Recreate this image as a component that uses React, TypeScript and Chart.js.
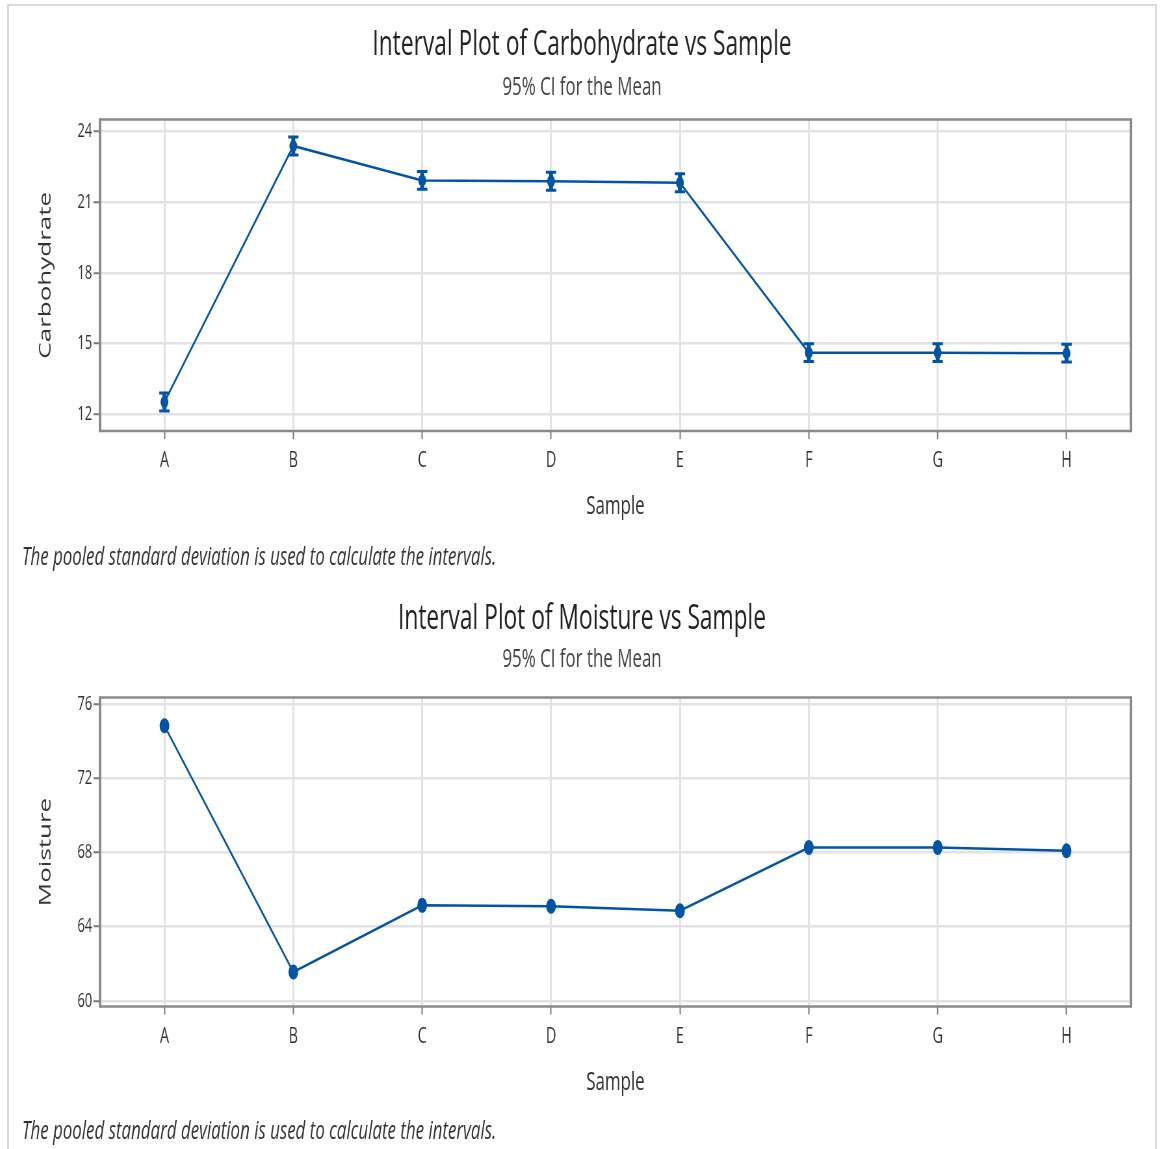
import React, { useEffect, useRef } from "react";
import { Chart, registerables } from "chart.js";

Chart.register(...registerables);

// ---------- data ----------
const samples = ["A", "B", "C", "D", "E", "F", "G", "H"];

const carbMean = [12.53, 23.38, 21.92, 21.88, 21.82, 14.62, 14.62, 14.6];
const carbCI = [0.38, 0.38, 0.38, 0.38, 0.38, 0.38, 0.38, 0.38];
const carbTicks = [12, 15, 18, 21, 24];

const moistMean = [74.83, 61.56, 65.15, 65.1, 64.86, 68.27, 68.27, 68.09];
const moistCI = [0.22, 0.22, 0.22, 0.22, 0.22, 0.22, 0.22, 0.22];
const moistTicks = [60, 64, 68, 72, 76];

const subtitleText = "95% CI for the Mean";
const xTitleText = "Sample";
const footnoteText = "The pooled standard deviation is used to calculate the intervals.";

// ---------- styling ----------
const SX = 0.65; // horizontal squeeze of the reference picture
const CSS_W = 1146;
const W = Math.round(CSS_W / SX);
const H = 574;
const FONT = "'Open Sans', 'Noto Sans', sans-serif";
const BLUE = "#0054a6";
const GRID = "#e2e2e2";
const FRAME = "#8a8a8a";
const SIDE = W - 1726; // symmetric side padding so the titles are centred on the canvas

type PlotProps = {
  title: string;
  yLabel: string;
  mean: number[];
  ci: number[];
  ticks: number[];
  yMin: number;
  yMax: number;
  subPadTop: number;
  subPadBottom: number;
  padBottom: number;
  pointRadius: number;
  capHalf: number;
};

function IntervalPlot(p: PlotProps) {
  const ref = useRef<HTMLCanvasElement | null>(null);

  useEffect(() => {
    if (!ref.current) return;

    const errorBars = {
      id: "errorBars",
      afterDatasetsDraw(chart: any) {
        const ctx = chart.ctx;
        const xs = chart.scales.x;
        const ys = chart.scales.y;
        ctx.save();
        ctx.strokeStyle = BLUE;
        p.mean.forEach((m, i) => {
          const px = xs.getPixelForValue(i);
          const top = ys.getPixelForValue(m + p.ci[i]);
          const bot = ys.getPixelForValue(m - p.ci[i]);
          ctx.lineWidth = 6;
          ctx.beginPath();
          ctx.moveTo(px, top);
          ctx.lineTo(px, bot);
          ctx.stroke();
          ctx.lineWidth = 3;
          ctx.beginPath();
          ctx.moveTo(px - p.capHalf, top);
          ctx.lineTo(px + p.capHalf, top);
          ctx.moveTo(px - p.capHalf, bot);
          ctx.lineTo(px + p.capHalf, bot);
          ctx.stroke();
        });
        ctx.restore();
      },
    };

    const frame = {
      id: "frame",
      beforeDatasetsDraw(chart: any) {
        const { ctx, chartArea: a } = chart;
        ctx.save();
        ctx.strokeStyle = FRAME;
        ctx.lineWidth = 2.5;
        ctx.beginPath();
        ctx.moveTo(a.left, a.top);
        ctx.lineTo(a.right, a.top);
        ctx.moveTo(a.left, a.bottom);
        ctx.lineTo(a.right, a.bottom);
        ctx.stroke();
        ctx.lineWidth = 4;
        ctx.beginPath();
        ctx.moveTo(a.left, a.top - 1.25);
        ctx.lineTo(a.left, a.bottom + 1.25);
        ctx.moveTo(a.right, a.top - 1.25);
        ctx.lineTo(a.right, a.bottom + 1.25);
        ctx.stroke();
        ctx.restore();
      },
    };

    const footnote = {
      id: "footnote",
      afterDraw(chart: any) {
        const ctx = chart.ctx;
        ctx.save();
        ctx.font = `italic 26px ${FONT}`;
        ctx.fillStyle = "#333";
        ctx.textAlign = "left";
        ctx.textBaseline = "middle";
        ctx.fillText(footnoteText, 20, 552);
        ctx.restore();
      },
    };

    const chart = new Chart(ref.current, {
      type: "line",
      data: {
        labels: samples,
        datasets: [
          {
            data: p.mean,
            borderColor: BLUE,
            backgroundColor: BLUE,
            borderWidth: 2.5,
            pointRadius: p.pointRadius,
            pointBackgroundColor: BLUE,
            pointBorderWidth: 0,
            tension: 0,
            fill: false,
          },
        ],
      },
      options: {
        responsive: false,
        animation: false,
        layout: { padding: { top: 0, left: SIDE, right: SIDE, bottom: p.padBottom } },
        plugins: {
          legend: { display: false },
          tooltip: { enabled: false },
          title: {
            display: true,
            text: p.title,
            color: "#222",
            font: { family: FONT, size: 35, weight: "normal" },
            padding: { top: 18, bottom: 0 },
          },
          subtitle: {
            display: true,
            text: subtitleText,
            color: "#444",
            font: { family: FONT, size: 26, weight: "normal" },
            padding: { top: p.subPadTop, bottom: p.subPadBottom },
          },
        },
        scales: {
          x: {
            type: "category",
            offset: true,
            afterFit(s: any) {
              s.height = 100;
            },
            grid: {
              color: GRID,
              lineWidth: 3,
              offset: false,
              drawTicks: true,
              tickLength: 8,
              tickColor: "#777",
              tickWidth: 2,
            },
            border: { display: false },
            ticks: {
              color: "#333",
              font: { family: FONT, size: 22 },
              padding: 9,
              maxRotation: 0,
              autoSkip: false,
            },
            title: {
              display: true,
              text: xTitleText,
              color: "#333",
              font: { family: FONT, size: 26 },
              padding: { top: 0, bottom: 8.4 },
            },
          },
          y: {
            type: "linear",
            min: p.yMin,
            max: p.yMax,
            afterFit(s: any) {
              s.width = 140 - SIDE;
            },
            afterBuildTicks(s: any) {
              s.ticks = p.ticks.map((v) => ({ value: v }));
            },
            grid: {
              color: GRID,
              lineWidth: 2.5,
              drawTicks: true,
              tickLength: 10,
              tickColor: "#777",
              tickWidth: 2,
            },
            border: { display: false },
            ticks: {
              color: "#333",
              font: { family: FONT, size: 20 },
              padding: 2,
            },
            title: {
              display: true,
              text: p.yLabel,
              color: "#333",
              font: { family: FONT, size: 26 },
              padding: { top: 40.5 - SIDE, bottom: 0 },
            },
          },
        },
      },
      plugins: [frame, errorBars, footnote],
    } as any);

    return () => chart.destroy();
  }, []);

  return (
    <canvas
      ref={ref}
      width={W}
      height={H}
      style={{ display: "block", width: CSS_W + "px", height: H + "px" }}
    />
  );
}

export default function App() {
  return (
    <div
      style={{
        position: "fixed",
        left: 7,
        top: 4,
        width: 1150,
        height: 1160,
        boxSizing: "border-box",
        borderTop: "2px solid #dadada",
        borderLeft: "2px solid #dadada",
        borderRight: "2px solid #dadada",
        background: "#fff",
        overflow: "hidden",
      }}
    >
      <IntervalPlot
        title="Interval Plot of Carbohydrate vs Sample"
        yLabel="Carbohydrate"
        mean={carbMean}
        ci={carbCI}
        ticks={carbTicks}
        yMin={11.3}
        yMax={24.5}
        subPadTop={6.4}
        subPadBottom={15.9}
        padBottom={49}
        pointRadius={6}
        capHalf={8}
      />
      <IntervalPlot
        title="Interval Plot of Moisture vs Sample"
        yLabel="Moisture"
        mean={moistMean}
        ci={moistCI}
        ticks={moistTicks}
        yMin={59.7}
        yMax={76.35}
        subPadTop={4.4}
        subPadBottom={21.9}
        padBottom={47.5}
        pointRadius={7.5}
        capHalf={5}
      />
    </div>
  );
}
